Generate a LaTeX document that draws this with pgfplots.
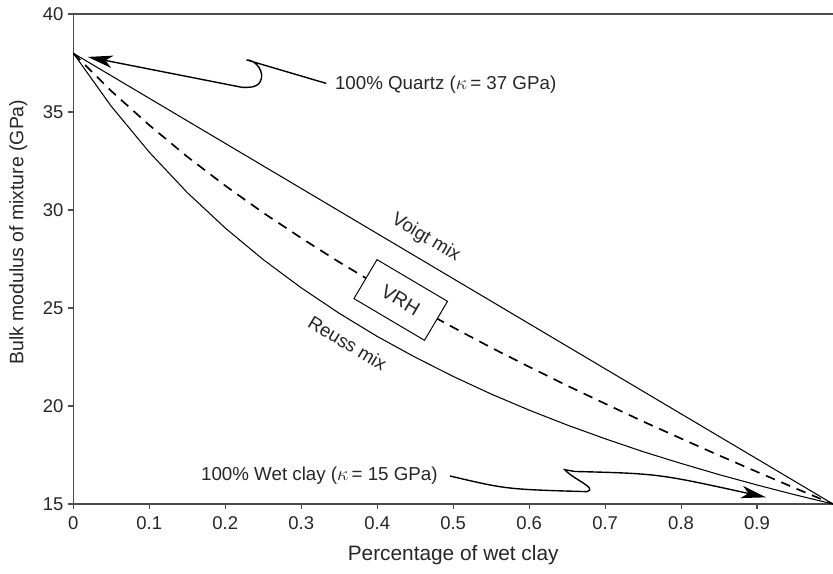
\documentclass[border=0pt]{standalone}
\usepackage{pgfplots}
\pgfplotsset{compat=1.18}
\usepackage{pgfplotstable}
\usepackage{fontspec}
\setmainfont{Liberation Sans}
\usetikzlibrary{arrows.meta}

% Bulk modulus of a quartz / wet-clay mixture (GPa) versus clay fraction
\pgfplotstableread{
f     voigt  reuss  vrh
0.00  38.00  38.00  38.00
0.05  36.85  35.29  36.07
0.10  35.70  32.95  34.33
0.15  34.55  30.89  32.72
0.20  33.40  29.08  31.24
0.25  32.25  27.47  29.86
0.30  31.10  26.03  28.57
0.35  29.95  24.73  27.34
0.40  28.80  23.55  26.18
0.45  27.65  22.49  25.07
0.50  26.50  21.51  24.01
0.55  25.35  20.61  22.98
0.60  24.20  19.79  22.00
0.65  23.05  19.03  21.04
0.70  21.90  18.33  20.12
0.75  20.75  17.67  19.21
0.80  19.60  17.07  18.34
0.85  18.45  16.50  17.48
0.90  17.30  15.97  16.64
0.95  16.15  15.47  15.81
1.00  15.00  15.00  15.00
}\mixdata

\begin{document}
\begin{tikzpicture}
\begin{axis}[
  scale only axis,
  width=547pt, height=352.8pt,
  xmin=0, xmax=1, ymin=15, ymax=40,
  axis x line*=bottom, axis y line*=left,
  axis line style={black!70, line width=0.9pt, -},
  tick align=outside,
  major tick length=3.6pt,
  tick style={black!70, line width=0.8pt},
  xtick={0,0.1,0.2,0.3,0.4,0.5,0.6,0.7,0.8,0.9},
  xticklabels={0,0.1,0.2,0.3,0.4,0.5,0.6,0.7,0.8,0.9},
  ytick={15,20,25,30,35,40},
  /pgf/number format/assume math mode=true,
  ticklabel style={font=\fontsize{13.3}{16}\selectfont, text=black!85},
  xticklabel style={yshift=-2pt},
  xlabel={Percentage of wet clay},
  ylabel={Bulk modulus of mixture (GPa)},
  xlabel style={at={(axis description cs:0.5,-0.104)}, anchor=center,
                font=\fontsize{15}{18}\selectfont, text=black!85},
  ylabel style={at={(axis description cs:-0.0724,0.555)}, anchor=center,
                font=\fontsize{14}{17}\selectfont, text=black!85},
  clip=false,
]
  \addplot[black, line width=0.75pt] table[x=f, y=voigt] {\mixdata};
  \addplot[black, line width=0.75pt] table[x=f, y=reuss] {\mixdata};
  \addplot[black, line width=1.2pt, dash pattern=on 7pt off 5pt] table[x=f, y=vrh] {\mixdata};

  % top frame line
  \draw[black!70, line width=0.9pt] (rel axis cs:0,1) -- (rel axis cs:1,1);

  % curve labels
  \node[rotate=-31, font=\fontsize{13.5}{16}\selectfont, text=black!85]
    at (axis cs:0.464,28.57) {Voigt mix};
  \node[rotate=-31, font=\fontsize{13.5}{16}\selectfont, text=black!85]
    at (axis cs:0.361,23.21) {Reuss mix};
  \node[rotate=-30.6, draw=black, line width=0.7pt, fill=white,
        minimum width=59pt, minimum height=32.6pt, inner sep=0pt,
        font=\fontsize{14}{17}\selectfont, text=black!85]
    at (axis cs:0.431,25.41) {VRH};

  % end-member annotations
  \node[anchor=west, font=\fontsize{13.5}{16}\selectfont, text=black!85]
    at (axis cs:0.338,36.42) {100\% Quartz ($\kappa$\,= 37 GPa)};
  \draw[black, line width=1pt, -{Stealth[length=18pt, width=9pt, inset=5pt]}]
    (axis cs:0.333,36.46) -- (axis cs:0.228,37.66)
    to[out=0, in=60] (axis cs:0.246,36.55)
    to[out=-120, in=0] (axis cs:0.222,36.26)
    -- (axis cs:0.019,37.81);

  \node[anchor=east, font=\fontsize{13.5}{16}\selectfont, text=black!85]
    at (axis cs:0.486,16.45) {100\% Wet clay ($\kappa$\,= 15 GPa)};
  \draw[black, line width=1pt, -{Stealth[length=18pt, width=9pt, inset=5pt]}]
    (axis cs:0.4957,16.43) .. controls (axis cs:0.57,15.75) .. (axis cs:0.676,15.63)
    to[out=15, in=-50] (axis cs:0.647,16.75)
    -- (axis cs:0.66,16.66)
    .. controls (axis cs:0.77,16.55) .. (axis cs:0.912,15.34);
\end{axis}
\pgfresetboundingbox
\useasboundingbox (-52.8pt,-50.4pt) rectangle (547pt,362.9pt);
\end{tikzpicture}
\end{document}
